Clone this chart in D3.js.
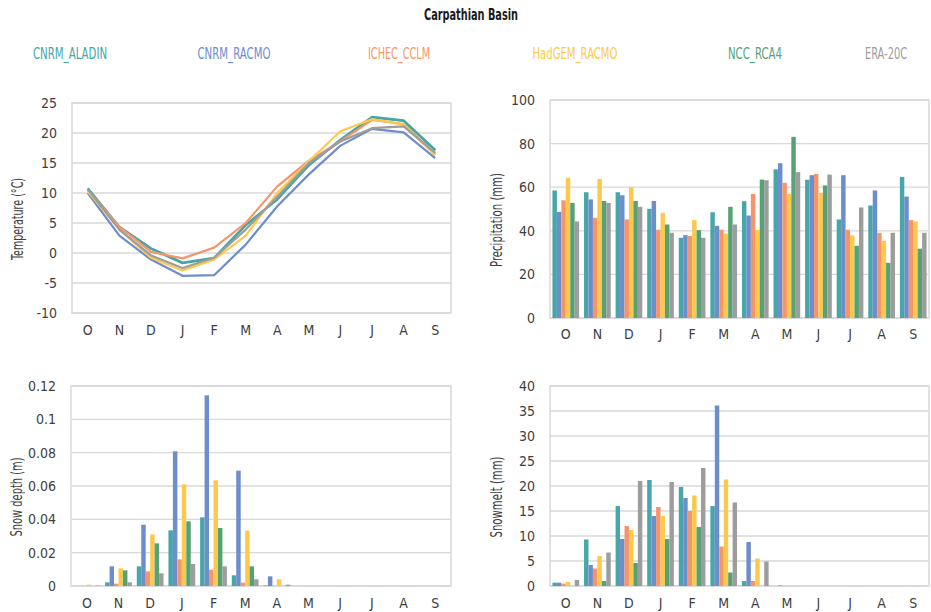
<!DOCTYPE html>
<html>
<head>
<meta charset="utf-8">
<script src="https://cdn.jsdelivr.net/npm/d3@7"></script>
<style>
  html, body { margin: 0; padding: 0; background: #fff; }
  svg { display: block; }
  text { font-family: "Liberation Sans Narrow", "DejaVu Sans Condensed", "Noto Sans", sans-serif; fill: #404040; }
</style>
</head>
<body>
<svg id="chart" width="931" height="612"></svg>
<script>
// Months of the hydrological year (October to September)
const months = ["O", "N", "D", "J", "F", "M", "A", "M", "J", "J", "A", "S"];

const seriesNames = ["CNRM_ALADIN", "CNRM_RACMO", "ICHEC_CCLM", "HadGEM_RACMO", "NCC_RCA4", "ERA-20C"];
const seriesColors = ["#46a6a9", "#6e8dcb", "#f7956a", "#fdc94d", "#56a277", "#9d9d9d"];

// Mean monthly temperature (°C)
const tempAladin = [10.8, 4.4, 0.8, -1.6, -0.8, 4.7, 8.9, 14.7, 18.9, 22.7, 22.1, 17.2];
const tempRacmo  = [10.0, 2.9, -1.1, -3.8, -3.7, 1.4, 7.8, 13.1, 17.9, 20.7, 20.1, 15.8];
const tempCclm   = [10.5, 4.4, 0.2, -0.9, 0.9, 5.0, 11.1, 15.4, 18.6, 22.2, 21.5, 16.5];
const tempHadgem = [10.3, 3.9, -0.8, -2.9, -1.1, 2.9, 10.0, 15.3, 20.3, 22.3, 21.4, 16.3];
const tempRca4   = [10.7, 4.3, 0.7, -1.7, -0.9, 4.6, 9.0, 14.6, 18.8, 22.6, 22.0, 17.1];
const tempEra    = [10.6, 3.9, -0.4, -2.5, -0.8, 3.9, 9.4, 15.0, 18.6, 20.8, 21.1, 16.7];

// Monthly precipitation (mm)
const precAladin = [58.5, 57.7, 57.7, 50.1, 36.8, 48.5, 53.6, 68.2, 63.4, 45.2, 51.6, 64.7];
const precRacmo  = [48.7, 54.4, 56.3, 53.7, 38.0, 42.3, 47.0, 71.0, 65.5, 65.5, 58.5, 55.7];
const precCclm   = [54.0, 46.0, 45.2, 40.5, 37.6, 40.5, 56.9, 62.0, 66.1, 40.5, 39.1, 44.9];
const precHadgem = [64.3, 63.8, 60.0, 48.2, 44.9, 38.8, 40.3, 56.9, 57.4, 37.9, 35.4, 44.3];
const precRca4   = [52.8, 53.7, 53.7, 42.9, 40.3, 51.0, 63.5, 83.1, 60.8, 33.1, 25.3, 31.8];
const precEra    = [44.3, 52.8, 51.0, 39.1, 36.8, 42.9, 63.2, 66.9, 65.8, 50.7, 39.1, 39.1];

// Monthly snow depth (m)
const snowAladin = [0, 0.0022, 0.0118, 0.0334, 0.0412, 0.0064, 0.0003, 0, 0, 0, 0, 0];
const snowRacmo  = [0, 0.0118, 0.0368, 0.0808, 0.1144, 0.0692, 0.0058, 0, 0, 0, 0, 0];
const snowCclm   = [0, 0.0014, 0.0088, 0.0160, 0.0098, 0.0020, 0, 0, 0, 0, 0, 0];
const snowHadgem = [0.0008, 0.0106, 0.0310, 0.0610, 0.0634, 0.0332, 0.0040, 0, 0, 0, 0, 0];
const snowRca4   = [0, 0.0094, 0.0256, 0.0388, 0.0348, 0.0118, 0, 0, 0, 0, 0, 0];
const snowEra    = [0.0002, 0.0022, 0.0076, 0.0132, 0.0118, 0.0040, 0.0008, 0, 0, 0, 0, 0];

// Monthly snowmelt (mm)
const meltAladin = [0.67, 9.3, 16.0, 21.2, 19.8, 16.0, 1.0, 0, 0, 0, 0, 0];
const meltRacmo  = [0.67, 4.2, 9.4, 14.0, 17.6, 36.1, 8.8, 0.1, 0, 0, 0, 0];
const meltCclm   = [0.47, 3.5, 12.0, 15.8, 15.0, 7.9, 1.0, 0, 0, 0, 0, 0];
const meltHadgem = [0.8, 6.0, 11.2, 14.0, 18.1, 21.3, 5.5, 0, 0, 0, 0, 0];
const meltRca4   = [0, 1.0, 4.6, 9.4, 11.8, 2.7, 0, 0, 0, 0, 0, 0];
const meltEra    = [1.2, 6.7, 21.0, 20.8, 23.6, 16.7, 4.9, 0, 0, 0, 0, 0];

// Axis tick labels
const tempTicks = [-10, -5, 0, 5, 10, 15, 20, 25];
const precTicks = [0, 20, 40, 60, 80, 100];
const snowTicks = [0, 0.02, 0.04, 0.06, 0.08, 0.1, 0.12];
const meltTicks = [0, 5, 10, 15, 20, 25, 30, 35, 40];

const svg = d3.select("#chart");
const gridColor = "#d9d9d9";

// Title
svg.append("text")
  .attr("x", 471).attr("y", 14)
  .attr("text-anchor", "middle").attr("dominant-baseline", "central")
  .attr("font-size", 16).attr("font-weight", "bold")
  .attr("textLength", 94).attr("lengthAdjust", "spacingAndGlyphs")
  .style("fill", "#1a1a1a")
  .text("Carpathian Basin");

// Legend
const legendX = [70, 234, 399, 575, 755, 886];
const legendW = [74, 73, 62, 85, 54, 42];
seriesNames.forEach((name, i) => {
  svg.append("text")
    .attr("x", legendX[i]).attr("y", 53)
    .attr("text-anchor", "middle").attr("dominant-baseline", "central")
    .attr("font-size", 16)
    .attr("textLength", legendW[i]).attr("lengthAdjust", "spacingAndGlyphs")
    .style("fill", seriesColors[i])
    .text(name);
});

function panel(opts) {
  const { x0, x1, y0, y1, domain, ticks, fmt, title, titleX, titleY, titleW, labelY } = opts;
  const g = svg.append("g");
  const x = d3.scaleBand().domain(d3.range(months.length)).range([x0, x1]);
  const y = d3.scaleLinear().domain(domain).range([y1, y0]);

  // gridlines
  g.selectAll("line.grid").data(ticks).join("line")
    .attr("x1", x0).attr("x2", x1)
    .attr("y1", d => y(d)).attr("y2", d => y(d))
    .attr("stroke", gridColor).attr("stroke-width", 1.3);

  // plot frame
  g.append("rect")
    .attr("x", x0).attr("y", y0).attr("width", x1 - x0).attr("height", y1 - y0)
    .attr("fill", "none").attr("stroke", gridColor).attr("stroke-width", 1.5);

  // y axis tick labels
  const yAxis = d3.axisLeft(y).tickValues(ticks).tickFormat(fmt).tickSize(0).tickPadding(15);
  const ya = g.append("g").attr("transform", `translate(${x0},0)`).call(yAxis);
  ya.select(".domain").remove();
  ya.selectAll("text").attr("font-size", 14).attr("font-family", null).style("fill", "#404040");

  // x axis month labels
  const xAxis = d3.axisBottom(x).tickFormat(i => months[i]).tickSize(0).tickPadding(0);
  const xa = g.append("g").attr("transform", `translate(0,${labelY})`).call(xAxis);
  xa.select(".domain").remove();
  xa.selectAll("text").attr("font-size", 14).attr("font-family", null)
    .attr("dy", null).attr("y", 0).attr("dominant-baseline", "central").style("fill", "#404040");

  // y axis title
  g.append("text")
    .attr("transform", `translate(${titleX},${titleY}) rotate(-90)`)
    .attr("text-anchor", "middle").attr("dominant-baseline", "central")
    .attr("font-size", 15)
    .attr("textLength", titleW).attr("lengthAdjust", "spacingAndGlyphs")
    .text(title);

  return { g, x, y };
}

function drawLines(p, series, order) {
  const line = d3.line().x((d, i) => p.x(i) + p.x.bandwidth() / 2).y(d => p.y(d));
  order.forEach(k => {
    p.g.append("path")
      .datum(series[k])
      .attr("d", line)
      .attr("fill", "none")
      .attr("stroke", seriesColors[k])
      .attr("stroke-width", 2.2)
      .attr("stroke-linejoin", "round");
  });
}

function drawBars(p, series) {
  const inner = d3.scaleBand().domain(d3.range(series.length))
    .range([0, p.x.bandwidth()]).paddingOuter(0.55).paddingInner(0);
  series.forEach((vals, k) => {
    p.g.append("g").selectAll("rect").data(vals).join("rect")
      .attr("x", (d, i) => p.x(i) + inner(k))
      .attr("width", inner.bandwidth())
      .attr("y", d => p.y(d))
      .attr("height", d => p.y(0) - p.y(d))
      .attr("fill", seriesColors[k]);
  });
}

const fmtInt = d => d3.format("d")(d);
const fmtSnow = d => String(+d.toFixed(2));

const pTemp = panel({ x0: 72, x1: 451, y0: 103, y1: 313, domain: [-10, 25], ticks: tempTicks,
  fmt: d => d < 0 ? "-" + Math.abs(d) : String(d),
  title: "Temperature (°C)", titleX: 18, titleY: 219, titleW: 82, labelY: 330 });
drawLines(pTemp, [tempAladin, tempRacmo, tempCclm, tempHadgem, tempRca4, tempEra], [4, 0, 1, 2, 3, 5]);

const pPrec = panel({ x0: 550, x1: 929, y0: 100, y1: 318, domain: [0, 100], ticks: precTicks,
  fmt: fmtInt, title: "Precipitation (mm)", titleX: 497, titleY: 220, titleW: 94, labelY: 334 });
drawBars(pPrec, [precAladin, precRacmo, precCclm, precHadgem, precRca4, precEra]);

const pSnow = panel({ x0: 71, x1: 451, y0: 386, y1: 586, domain: [0, 0.12], ticks: snowTicks,
  fmt: fmtSnow, title: "Snow depth (m)", titleX: 17, titleY: 497, titleW: 79, labelY: 603 });
drawBars(pSnow, [snowAladin, snowRacmo, snowCclm, snowHadgem, snowRca4, snowEra]);

const pMelt = panel({ x0: 550, x1: 929, y0: 386, y1: 586, domain: [0, 40], ticks: meltTicks,
  fmt: fmtInt, title: "Snowmelt (mm)", titleX: 497, titleY: 497, titleW: 81, labelY: 603 });
drawBars(pMelt, [meltAladin, meltRacmo, meltCclm, meltHadgem, meltRca4, meltEra]);
</script>
</body>
</html>
